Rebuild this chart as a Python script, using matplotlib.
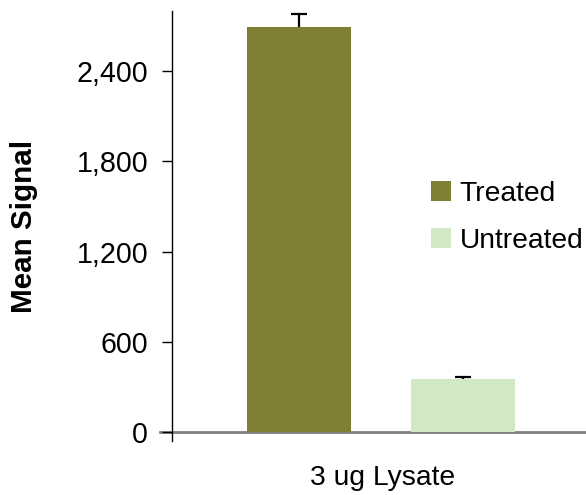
import matplotlib
matplotlib.use("Agg")
import matplotlib.pyplot as plt
from matplotlib.patches import Patch

plt.rcParams['font.family'] = ['Liberation Sans', 'DejaVu Sans']

series = ["Treated", "Untreated"]
values = [2693, 352]
errors = [90, 17]
colors = ["#7f7f35", "#d1e7c5"]
yticks = [0, 600, 1200, 1800, 2400]
ytick_labels = ["0", "600", "1,200", "1,800", "2,400"]
category = "3 ug Lysate"

fig = plt.figure(figsize=(5.86, 4.95), dpi=100)
ax = fig.add_axes([172/586, 54/495, 1 - 172/586, 430/495])

xpos = [0, 1]
for x, v, e, c in zip(xpos, values, errors, colors):
    ax.bar(x, v, width=0.632, color=c, zorder=2)
    ax.vlines(x, v, v + e, color='black', lw=1.6, zorder=3)
    ax.plot([x], [v + e], marker='_', markersize=11.5, mew=1.6, color='black', zorder=3)

ax.axhline(0, color='#808080', lw=2, zorder=1, xmin=-0.03, clip_on=False)
ax.set_xlim(-0.772, 1.745)
ax.set_ylim(-60, 2800)
ax.set_yticks(yticks)
ax.set_yticklabels(ytick_labels, fontsize=20.6)
ax.set_xticks([])
ax.tick_params(axis='y', length=7.2, width=1, direction='out', pad=10)
for s in ['top', 'right', 'bottom']:
    ax.spines[s].set_visible(False)
ax.spines['left'].set_linewidth(1)

fig.text(24/586, 1 - 226/495, "Mean Signal", fontsize=21.3, fontweight='bold',
         rotation=90, ha='center', va='center')
fig.text(383/586, 17/495, category, fontsize=20.3, ha='center', va='center')

handles = [Patch(facecolor=c, edgecolor='none') for c in colors]
leg = ax.legend(handles, series, loc='upper left', bbox_to_anchor=(431/586, 1 - 181/495),
                bbox_transform=fig.transFigure, frameon=False, fontsize=20.3,
                handlelength=0.72, handleheight=0.72, handletextpad=0.3,
                labelspacing=0.75, borderpad=0, borderaxespad=0)

fig.savefig("out.png", dpi=100)
